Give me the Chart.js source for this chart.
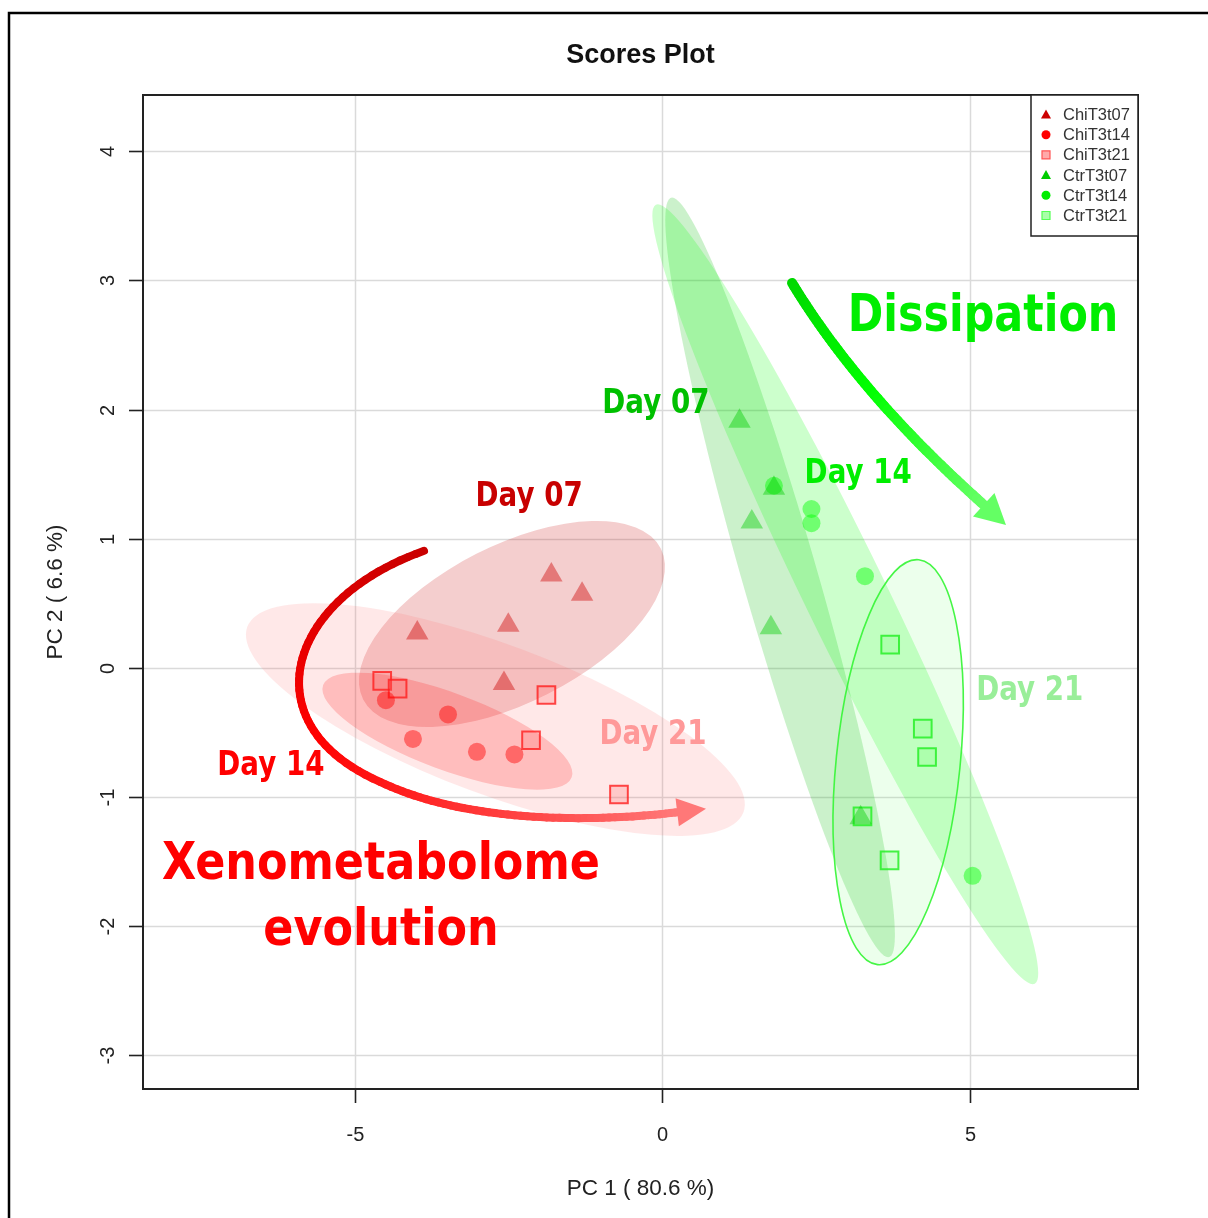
<!DOCTYPE html>
<html lang="en">
<head>
<meta charset="UTF-8">
<title>Scores Plot</title>
<script src="https://cdn.jsdelivr.net/npm/chart.js"></script>
<style>
  html, body { margin: 0; padding: 0; background: #fff; }
  #wrap { width: 1208px; height: 1218px; }
</style>
</head>
<body>
<div id="wrap"><canvas id="scoresChart" width="1208" height="1218"></canvas></div>
<script>
// PCA scores, [PC1, PC2] per sample
const chiT3t07 = [[-3.98, 0.27], [-2.50, 0.33], [-1.80, 0.72], [-1.30, 0.57], [-2.57, -0.12]];
const chiT3t14 = [[-4.49, -0.25], [-3.48, -0.36], [-4.05, -0.55], [-3.01, -0.65], [-2.40, -0.67]];
const chiT3t21 = [[-4.55, -0.10], [-4.30, -0.16], [-1.88, -0.21], [-2.13, -0.56], [-0.70, -0.98]];
const ctrT3t07 = [[1.26, 1.91], [1.82, 1.39], [1.46, 1.13], [1.77, 0.31], [3.23, -1.16]];
const ctrT3t14 = [[1.82, 1.41], [2.43, 1.23], [2.43, 1.12], [3.30, 0.71], [5.05, -1.61]];
const ctrT3t21 = [[3.71, 0.18], [4.24, -0.47], [4.31, -0.69], [3.26, -1.15], [3.70, -1.49]];

const groupNames = ['ChiT3t07', 'ChiT3t14', 'ChiT3t21', 'CtrT3t07', 'CtrT3t14', 'CtrT3t21'];
const xTicks = [-5, 0, 5];
const yTicks = [-3, -2, -1, 0, 1, 2, 3, 4];

// confidence ellipses: centre + two conjugate semi-axes (PC units)
const ellipseCentres = [[-2.44, 0.34], [-3.49, -0.49], [-2.71, -0.40], [1.92, 0.70], [2.98, 0.57], [3.84, -0.73]];
const ellipseAxisU = [[2.42, 0.584], [2.021, -0.357], [4.034, -0.718], [-1.756, 2.941], [-3.049, 3.019], [0.335, 1.567]];
const ellipseAxisV = [[0.579, -0.543], [-0.217, -0.279], [-0.427, -0.544], [0.634, 0], [0.740, 0], [1.003, -0.049]];

// hand-drawn arrows (PC units): bezier control points and arrow tips
const redArrowPath = [[-3.870, 0.906], [-6.130, 0.526], [-6.699, -0.441], [-4.585, -0.882], [-3.122, -1.215], [-1.008, -1.192], [0.293, -1.115]];
const redArrowTip = [0.715, -1.091];
const greenArrowPath = [[2.114, 2.980], [3.220, 2.113], [5.252, 1.254]];
const greenArrowTip = [5.593, 1.107];

// text labels placed in PC units
const noteTexts = ['Dissipation', 'Day 07', 'Day 14', 'Day 21', 'Day 07', 'Day 14', 'Day 21', 'Xenometabolome', 'evolution'];
const notePos = [[5.22, 2.71], [-0.10, 2.04], [3.19, 1.50], [5.98, -0.185], [-2.16, 1.32], [-6.36, -0.76], [-0.146, -0.525], [-4.57, -1.53], [-4.57, -2.04]];

const groupStyles = [
  { shape: 'triangle', r: 13, fill: 'rgba(204,0,0,0.42)', line: 'rgba(0,0,0,0)', lw: 0, legFill: '#cc0000', legLine: '#cc0000' },
  { shape: 'circle', r: 9, fill: 'rgba(255,0,0,0.45)', line: 'rgba(0,0,0,0)', lw: 0, legFill: '#ff0000', legLine: '#ff0000' },
  { shape: 'rect', r: 12.5, fill: 'rgba(255,102,102,0.25)', line: 'rgba(255,30,30,0.8)', lw: 2, legFill: '#ffaaaa', legLine: '#ff5555' },
  { shape: 'triangle', r: 13, fill: 'rgba(0,204,0,0.42)', line: 'rgba(0,0,0,0)', lw: 0, legFill: '#00cc00', legLine: '#00cc00' },
  { shape: 'circle', r: 9, fill: 'rgba(0,255,0,0.45)', line: 'rgba(0,0,0,0)', lw: 0, legFill: '#00ee00', legLine: '#00ee00' },
  { shape: 'rect', r: 12.5, fill: 'rgba(102,255,102,0.2)', line: 'rgba(40,240,40,0.85)', lw: 2, legFill: '#aaffaa', legLine: '#55ff55' }
];
const ellipseStyles = [
  { fill: 'rgba(200,10,10,0.2)', line: null },
  { fill: 'rgba(255,0,0,0.2)', line: null },
  { fill: 'rgba(255,102,102,0.15)', line: null },
  { fill: 'rgba(20,190,20,0.22)', line: null },
  { fill: 'rgba(0,255,0,0.2)', line: null },
  { fill: 'rgba(102,255,102,0.12)', line: 'rgba(60,245,60,0.95)' }
];
const noteStyles = [
  { color: '#00ee00', size: 51, sq: 0.84 }, { color: '#00c000', size: 33, sq: 0.84 }, { color: '#00ee00', size: 33, sq: 0.84 },
  { color: '#99ee99', size: 33, sq: 0.84 }, { color: '#c80000', size: 33, sq: 0.84 }, { color: '#ff0000', size: 33, sq: 0.84 },
  { color: '#ff9999', size: 33, sq: 0.84 }, { color: '#ff0000', size: 52, sq: 0.855 }, { color: '#ff0000', size: 52, sq: 0.855 }
];

const allGroups = [chiT3t07, chiT3t14, chiT3t21, ctrT3t07, ctrT3t14, ctrT3t21];
const datasets = allGroups.map((g, i) => ({
  label: groupNames[i],
  data: g.map(p => ({ x: p[0], y: p[1] })),
  showLine: false,
  pointStyle: groupStyles[i].shape,
  pointRadius: groupStyles[i].r,
  pointBackgroundColor: groupStyles[i].fill,
  pointBorderColor: groupStyles[i].line,
  pointBorderWidth: groupStyles[i].lw
}));

function lerpColor(stops, t) {
  // stops: [[t, r, g, b], ...]
  for (let i = 1; i < stops.length; i++) {
    if (t <= stops[i][0]) {
      const a = stops[i - 1], b = stops[i];
      const k = (t - a[0]) / (b[0] - a[0]);
      return `rgb(${Math.round(a[1] + (b[1] - a[1]) * k)},${Math.round(a[2] + (b[2] - a[2]) * k)},${Math.round(a[3] + (b[3] - a[3]) * k)})`;
    }
  }
  const s = stops[stops.length - 1];
  return `rgb(${s[1]},${s[2]},${s[3]})`;
}

function bezierPoints(pts) {
  // pts: start + groups of 3 (cubic), or exactly 3 points (quadratic)
  const out = [];
  if (pts.length === 3) {
    for (let i = 0; i <= 60; i++) {
      const t = i / 60, m = 1 - t;
      out.push([m * m * pts[0][0] + 2 * m * t * pts[1][0] + t * t * pts[2][0],
                m * m * pts[0][1] + 2 * m * t * pts[1][1] + t * t * pts[2][1]]);
    }
    return out;
  }
  for (let s = 0; s + 3 < pts.length; s += 3) {
    const [p0, c1, c2, p1] = [pts[s], pts[s + 1], pts[s + 2], pts[s + 3]];
    for (let i = (s ? 1 : 0); i <= 50; i++) {
      const t = i / 50, m = 1 - t;
      out.push([m * m * m * p0[0] + 3 * m * m * t * c1[0] + 3 * m * t * t * c2[0] + t * t * t * p1[0],
                m * m * m * p0[1] + 3 * m * m * t * c1[1] + 3 * m * t * t * c2[1] + t * t * t * p1[1]]);
    }
  }
  return out;
}

function drawArrow(ctx, pts, tip, stops, width, headLen, headHalf) {
  const line = bezierPoints(pts);
  ctx.save();
  ctx.lineWidth = width;
  ctx.lineCap = 'round';
  for (let i = 1; i < line.length; i++) {
    ctx.strokeStyle = lerpColor(stops, i / (line.length - 1));
    ctx.beginPath();
    ctx.moveTo(line[i - 1][0], line[i - 1][1]);
    ctx.lineTo(line[i][0], line[i][1]);
    ctx.stroke();
  }
  const end = line[line.length - 1];
  let dx = tip[0] - end[0], dy = tip[1] - end[1];
  const d = Math.hypot(dx, dy);
  dx /= d; dy /= d;
  const bx = tip[0] - dx * headLen, by = tip[1] - dy * headLen;
  ctx.fillStyle = lerpColor(stops, 1);
  ctx.beginPath();
  ctx.moveTo(tip[0], tip[1]);
  ctx.lineTo(bx - dy * headHalf, by + dx * headHalf);
  ctx.lineTo(bx + dy * headHalf, by - dx * headHalf);
  ctx.closePath();
  ctx.fill();
  ctx.restore();
}

const backdrop = {
  id: 'backdrop',
  beforeDatasetsDraw(chart) {
    const ctx = chart.ctx, sx = chart.scales.x, sy = chart.scales.y, a = chart.chartArea;
    ctx.save();
    // grid
    ctx.strokeStyle = '#dadada';
    ctx.lineWidth = 1.5;
    xTicks.forEach(v => {
      const x = Math.round(sx.getPixelForValue(v)) + 0.5;
      ctx.beginPath(); ctx.moveTo(x, a.top); ctx.lineTo(x, a.bottom); ctx.stroke();
    });
    yTicks.forEach(v => {
      const y = Math.round(sy.getPixelForValue(v)) + 0.5;
      ctx.beginPath(); ctx.moveTo(a.left, y); ctx.lineTo(a.right, y); ctx.stroke();
    });
    // ellipses
    ellipseCentres.forEach((c, i) => {
      const cx = sx.getPixelForValue(c[0]), cy = sy.getPixelForValue(c[1]);
      const ux = sx.getPixelForValue(c[0] + ellipseAxisU[i][0]) - cx;
      const uy = sy.getPixelForValue(c[1] + ellipseAxisU[i][1]) - cy;
      const vx = sx.getPixelForValue(c[0] + ellipseAxisV[i][0]) - cx;
      const vy = sy.getPixelForValue(c[1] + ellipseAxisV[i][1]) - cy;
      ctx.save();
      ctx.beginPath();
      ctx.transform(ux, uy, vx, vy, cx, cy);
      ctx.arc(0, 0, 1, 0, Math.PI * 2);
      ctx.restore();
      ctx.fillStyle = ellipseStyles[i].fill;
      ctx.fill();
      if (ellipseStyles[i].line) {
        ctx.strokeStyle = ellipseStyles[i].line;
        ctx.lineWidth = 1.6;
        ctx.stroke();
      }
    });
    ctx.restore();
  },
  afterDatasetsDraw(chart) {
    const ctx = chart.ctx, sx = chart.scales.x, sy = chart.scales.y;
    const toPx = p => [sx.getPixelForValue(p[0]), sy.getPixelForValue(p[1])];
    drawArrow(ctx, redArrowPath.map(toPx), toPx(redArrowTip),
      [[0, 200, 0, 0], [0.4, 255, 0, 0], [1, 255, 120, 120]], 8, 29, 14);
    drawArrow(ctx, greenArrowPath.map(toPx), toPx(greenArrowTip),
      [[0, 0, 215, 0], [0.5, 0, 255, 0], [1, 100, 255, 100]], 10, 30, 16);
    noteTexts.forEach((t, i) => {
      const [x, y] = toPx(notePos[i]);
      ctx.save();
      ctx.font = `bold ${noteStyles[i].size}px "DejaVu Sans"`;
      ctx.fillStyle = noteStyles[i].color;
      ctx.textAlign = 'center';
      ctx.textBaseline = 'middle';
      ctx.translate(x, y);
      ctx.scale(noteStyles[i].sq, 1);
      ctx.fillText(t, 0, 0);
      ctx.restore();
    });
  },
  afterDraw(chart) {
    const ctx = chart.ctx, sx = chart.scales.x, sy = chart.scales.y, a = chart.chartArea;
    ctx.save();
    // outer figure frame
    ctx.strokeStyle = '#000';
    ctx.lineWidth = 2.5;
    ctx.beginPath(); ctx.moveTo(9, 1230); ctx.lineTo(9, 13); ctx.lineTo(1230, 13); ctx.stroke();
    // plot box
    ctx.strokeStyle = '#222';
    ctx.lineWidth = 2;
    ctx.strokeRect(a.left, a.top, a.right - a.left, a.bottom - a.top);
    // ticks and labels
    ctx.fillStyle = '#222';
    ctx.font = '20px "Liberation Sans", Arial, sans-serif';
    ctx.lineWidth = 1.6;
    xTicks.forEach(v => {
      const x = Math.round(sx.getPixelForValue(v)) + 0.5;
      ctx.beginPath(); ctx.moveTo(x, a.bottom); ctx.lineTo(x, a.bottom + 14); ctx.stroke();
      ctx.textAlign = 'center'; ctx.textBaseline = 'middle';
      ctx.fillText(String(v), x, a.bottom + 46);
    });
    yTicks.forEach(v => {
      const y = Math.round(sy.getPixelForValue(v)) + 0.5;
      ctx.beginPath(); ctx.moveTo(a.left - 14, y); ctx.lineTo(a.left, y); ctx.stroke();
      ctx.save();
      ctx.translate(a.left - 35, y);
      ctx.rotate(-Math.PI / 2);
      ctx.textAlign = 'center'; ctx.textBaseline = 'middle';
      ctx.fillText(String(v), 0, 0);
      ctx.restore();
    });
    // axis titles
    ctx.font = '22.5px "Liberation Sans", Arial, sans-serif';
    ctx.textAlign = 'center'; ctx.textBaseline = 'middle';
    const midX = (a.left + a.right) / 2, midY = (a.top + a.bottom) / 2;
    ctx.fillText('PC 1 ( 80.6 %)', midX, a.bottom + 100);
    ctx.save();
    ctx.translate(56, midY);
    ctx.rotate(-Math.PI / 2);
    ctx.fillText('PC 2 ( 6.6 %)', 0, 0);
    ctx.restore();
    // title
    ctx.fillStyle = '#111';
    ctx.font = 'bold 27px "Liberation Sans", Arial, sans-serif';
    ctx.fillText('Scores Plot', midX, 56);

    // legend box
    const lw = 107, lh = 141, lx = a.right - lw, ly = a.top;
    ctx.fillStyle = '#fff';
    ctx.fillRect(lx, ly, lw, lh);
    ctx.strokeStyle = '#222';
    ctx.lineWidth = 1.5;
    ctx.strokeRect(lx, ly, lw, lh);
    ctx.font = '16.5px "Liberation Sans", Arial, sans-serif';
    ctx.textAlign = 'left';
    groupNames.forEach((name, i) => {
      const y = ly + 19.5 + i * 20.2, x = lx + 15;
      const st = groupStyles[i];
      ctx.fillStyle = st.legFill;
      ctx.strokeStyle = st.legLine;
      ctx.lineWidth = 1.2;
      ctx.beginPath();
      if (st.shape === 'triangle') {
        ctx.moveTo(x, y - 5); ctx.lineTo(x + 5, y + 4); ctx.lineTo(x - 5, y + 4); ctx.closePath(); ctx.fill();
      } else if (st.shape === 'circle') {
        ctx.arc(x, y, 4.5, 0, Math.PI * 2); ctx.fill();
      } else {
        ctx.rect(x - 4, y - 4, 8, 8); ctx.fill(); ctx.stroke();
      }
      ctx.fillStyle = '#333';
      ctx.fillText(name, lx + 32, y + 1);
    });
    ctx.restore();
  }
};

new Chart(document.getElementById('scoresChart'), {
  type: 'scatter',
  data: { datasets },
  options: {
    responsive: false,
    animation: false,
    devicePixelRatio: 1,
    events: [],
    layout: { padding: { left: 143, top: 95, right: 70, bottom: 129 } },
    scales: {
      x: { type: 'linear', display: false, min: -8.44, max: 7.74 },
      y: { type: 'linear', display: false, min: -3.26, max: 4.435 }
    },
    plugins: { legend: { display: false }, tooltip: { enabled: false } }
  },
  plugins: [backdrop]
});
</script>
</body>
</html>
